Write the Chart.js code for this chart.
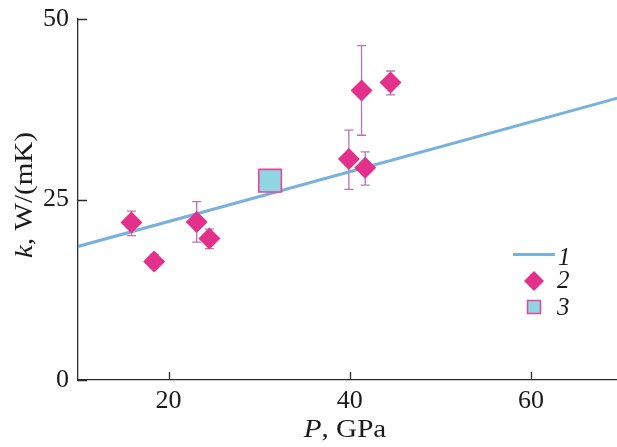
<!DOCTYPE html>
<html>
<head>
<meta charset="utf-8">
<script src="https://cdn.jsdelivr.net/npm/chart.js@4.4.1/dist/chart.umd.min.js"></script>
<style>
  html, body { margin: 0; padding: 0; background: #fff; }
  #wrap { width: 617px; height: 447px; position: relative; }
</style>
</head>
<body>
<div id="wrap"><canvas id="c"></canvas></div>
<script>
// Curve 1: linear fit of k(P)
const fitP = [10, 70];
const fitK = [18.5, 39.2];

// Set 2: measured points with error bars
const pressure2 = [15.9, 18.4, 23.1, 24.5, 39.9, 41.3, 41.7, 44.5];
const kappa2    = [21.8, 16.4, 21.9, 19.6, 30.6, 40.1, 29.4, 41.2];
const errLow2   = [20.0, 15.5, 19.1, 18.2, 26.4, 33.9, 27.0, 39.5];
const errHigh2  = [23.4, 17.4, 24.7, 20.9, 34.6, 46.3, 31.6, 42.8];

// Set 3: single point
const pressure3 = [31.2];
const kappa3    = [27.6];

// Axis ticks
const xTicks = [20, 40, 60];
const yTicks = [0, 25, 50];

const SERIF = '"Liberation Serif", "DejaVu Serif", serif';
const AXIS_COLOR = '#2b2b2b';
const TEXT_COLOR = '#1a1a1a';
const PINK = '#e3318b';
const ERR_COLOR = '#b874b6';
const LINE_COLOR = '#79b1dd';
const CYAN = '#8ed6e1';
const SQUARE_EDGE = '#e6479c';

const toPts = (xs, ys) => xs.map((x, i) => ({ x, y: ys[i] }));

const errorBars = {
  id: 'errorBars',
  beforeDatasetsDraw(chart) {
    const { ctx, scales: { x, y } } = chart;
    ctx.save();
    ctx.strokeStyle = ERR_COLOR;
    ctx.lineWidth = 1.3;
    pressure2.forEach((p, i) => {
      const px = x.getPixelForValue(p);
      const y1 = y.getPixelForValue(errLow2[i]);
      const y2 = y.getPixelForValue(errHigh2[i]);
      ctx.beginPath();
      ctx.moveTo(px, y1); ctx.lineTo(px, y2);
      ctx.moveTo(px - 4.5, y1); ctx.lineTo(px + 4.5, y1);
      ctx.moveTo(px - 4.5, y2); ctx.lineTo(px + 4.5, y2);
      ctx.stroke();
    });
    ctx.restore();
  }
};

// draws a run of text pieces centred on (cx, cy), slightly widened
function drawParts(ctx, parts, cx, cy, stretch) {
  let total = 0;
  parts.forEach(p => { ctx.font = p.font; p.w = ctx.measureText(p.t).width; total += p.w; });
  ctx.save();
  ctx.translate(cx, cy);
  ctx.scale(stretch, 1);
  let cur = -total / 2;
  ctx.textAlign = 'left';
  parts.forEach(p => { ctx.font = p.font; ctx.fillText(p.t, cur, 0); cur += p.w; });
  ctx.restore();
}

const decorations = {
  id: 'decorations',
  afterDraw(chart) {
    const { ctx, scales: { x, y }, chartArea } = chart;
    ctx.save();
    // inward tick marks
    ctx.strokeStyle = AXIS_COLOR;
    ctx.lineWidth = 1.3;
    ctx.beginPath();
    xTicks.forEach(v => {
      const px = Math.round(x.getPixelForValue(v)) + 0.5;
      ctx.moveTo(px, chartArea.bottom); ctx.lineTo(px, chartArea.bottom - 8);
    });
    yTicks.forEach(v => {
      const py = Math.round(y.getPixelForValue(v)) + 0.5;
      ctx.moveTo(chartArea.left, py); ctx.lineTo(chartArea.left + 9, py);
    });
    ctx.stroke();

    // axis titles
    ctx.fillStyle = TEXT_COLOR;
    ctx.textBaseline = 'alphabetic';
    drawParts(ctx, [
      { t: 'P', font: `italic 26px ${SERIF}` },
      { t: ', GPa', font: `26px ${SERIF}` }
    ], 345, 437, 1.12);

    ctx.save();
    ctx.translate(32, 195);
    ctx.rotate(-Math.PI / 2);
    drawParts(ctx, [
      { t: 'k', font: `italic 26px ${SERIF}` },
      { t: ', W/(mK)', font: `26px ${SERIF}` }
    ], 0, 0, 1.12);
    ctx.restore();

    // legend
    const lx = 534, tx = 557;
    ctx.strokeStyle = LINE_COLOR;
    ctx.lineWidth = 3;
    ctx.beginPath();
    ctx.moveTo(513, 254.5); ctx.lineTo(555, 254.5);
    ctx.stroke();

    ctx.fillStyle = PINK;
    ctx.beginPath();
    ctx.moveTo(lx - 10, 281); ctx.lineTo(lx, 271); ctx.lineTo(lx + 10, 281); ctx.lineTo(lx, 291);
    ctx.closePath();
    ctx.fill();

    ctx.fillStyle = CYAN;
    ctx.strokeStyle = SQUARE_EDGE;
    ctx.lineWidth = 1.5;
    ctx.fillRect(lx - 6.5, 300.5, 13, 13);
    ctx.strokeRect(lx - 6.5, 300.5, 13, 13);

    ctx.fillStyle = TEXT_COLOR;
    ctx.font = `italic 25px ${SERIF}`;
    ctx.textAlign = 'left';
    ctx.textBaseline = 'alphabetic';
    ctx.fillText('1', tx + 1, 265);
    ctx.fillText('2', tx, 288);
    ctx.fillText('3', tx, 315);
    ctx.restore();
  }
};

new Chart(document.getElementById('c'), {
  type: 'scatter',
  data: {
    datasets: [
      {
        type: 'line',
        label: '1',
        data: toPts(fitP, fitK),
        borderColor: LINE_COLOR,
        borderWidth: 3,
        pointRadius: 0,
        fill: false,
        order: 3
      },
      {
        label: '2',
        data: toPts(pressure2, kappa2),
        pointStyle: 'rectRot',
        pointRadius: 11,
        pointHoverRadius: 11,
        backgroundColor: PINK,
        borderColor: PINK,
        borderWidth: 0,
        order: 2
      },
      {
        label: '3',
        data: toPts(pressure3, kappa3),
        pointStyle: 'rect',
        pointRadius: 16,
        pointHoverRadius: 16,
        backgroundColor: CYAN,
        borderColor: SQUARE_EDGE,
        borderWidth: 1.6,
        order: 1
      }
    ]
  },
  options: {
    responsive: true,
    maintainAspectRatio: false,
    animation: false,
    events: [],
    layout: { autoPadding: false, padding: { top: 19, right: 0, left: 0, bottom: 0 } },
    plugins: { legend: { display: false }, tooltip: { enabled: false } },
    scales: {
      x: {
        type: 'linear',
        min: 10,
        max: 69.5,
        afterBuildTicks: s => { s.ticks = xTicks.map(v => ({ value: v })); },
        afterFit: s => { s.height = 67; s.paddingLeft = 0; s.paddingRight = 0; },
        grid: { display: false, drawTicks: false, tickLength: 0 },
        border: { display: true, color: AXIS_COLOR, width: 1.3 },
        ticks: { font: { family: SERIF, size: 26 }, color: TEXT_COLOR, padding: 6, maxRotation: 0 }
      },
      y: {
        type: 'linear',
        min: 0,
        max: 50,
        afterBuildTicks: s => { s.ticks = yTicks.map(v => ({ value: v })); },
        afterFit: s => { s.width = 78; s.paddingTop = 0; s.paddingBottom = 0; },
        grid: { display: false, drawTicks: false, tickLength: 0 },
        border: { display: true, color: AXIS_COLOR, width: 1.3 },
        ticks: { font: { family: SERIF, size: 26 }, color: TEXT_COLOR, padding: 9 }
      }
    }
  },
  plugins: [errorBars, decorations]
});
</script>
</body>
</html>
